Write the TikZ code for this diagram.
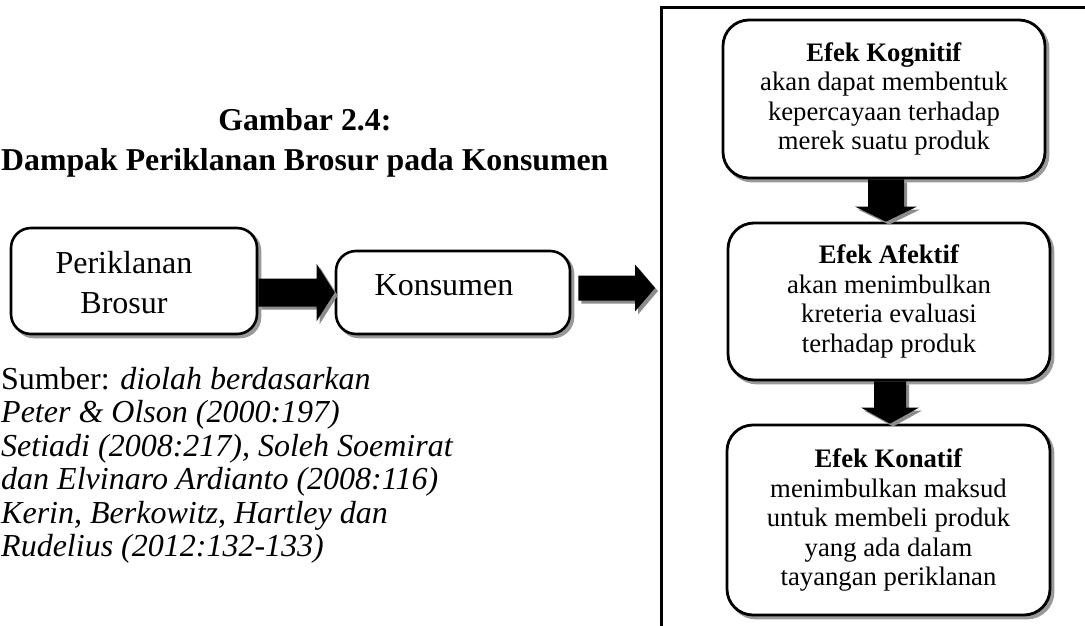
\documentclass[tikz,border=0pt]{standalone}
\usepackage{fontspec}
\setmainfont{Liberation Serif}
\usetikzlibrary{calc,shadows}

\tikzset{
  softshadow/.style={drop shadow={shadow xshift=3pt,shadow yshift=-3pt,opacity=1,fill=black!40,draw=black!40}},
  leftbox/.style={draw, line width=2.6pt, rounded corners=20pt, fill=white, softshadow, inner sep=0pt},
  lefttext/.style={align=center, inner sep=0pt, font=\fontsize{32}{40}\selectfont},
  rightbox/.style={draw, line width=2.8pt, rounded corners=26pt, fill=white, softshadow,
    align=center, inner sep=0pt, font=\fontsize{26.7}{29.5}\selectfont},
  fatbody/.style={fill=black, drop shadow={shadow xshift=3pt,shadow yshift=-3pt,opacity=1,fill=black!45}},
  framerule/.style={line width=3pt},
  titletext/.style={align=center, inner sep=0pt, font=\fontsize{31.8}{40}\selectfont\bfseries},
  sourcetext/.style={align=left, inner sep=0pt, font=\fontsize{32}{33.5}\selectfont}
}

% block arrow from #1 to #2: shaft half width #3, head half width #4, head length #5
\newcommand\blockarrow[5]{%
  \coordinate (ba-h) at ($(#2)!#5!(#1)$);
  \fill[fatbody] ($(#1)!#3!90:(#2)$) -- ($(ba-h)!#3!-90:(#1)$) -- ($(ba-h)!#4!-90:(#1)$)
    -- (#2) -- ($(ba-h)!#4!90:(#1)$) -- ($(ba-h)!#3!90:(#1)$) -- ($(#1)!#3!-90:(#2)$) -- cycle;
}

\begin{document}
\begin{tikzpicture}[x=1pt,y=-1pt]
\useasboundingbox (0,0) rectangle (1085,626);

% heading
\node[titletext, anchor=north west] (ttl) at (1,108)
  {Gambar 2.4:\\Dampak Periklanan Brosur pada Konsumen};

% left chain
\node[leftbox, minimum width=246pt, minimum height=106pt] (p) at (134,281) {};
\node[lefttext] (ptxt) at (124,283) {Periklanan\\Brosur};
\node[leftbox, minimum width=234pt, minimum height=83pt] (k) at (453,292.5) {};
\node[lefttext] (ktxt) at (444,285) {Konsumen};

% source note
\node[sourcetext, anchor=north west] (src) at (1,367)
  {Sumber: \textit{diolah berdasarkan}\\
   \textit{Peter \& Olson (2000:197)}\\
   \textit{Setiadi (2008:217), Soleh Soemirat}\\
   \textit{dan Elvinaro Ardianto (2008:116)}\\
   \textit{Kerin, Berkowitz, Hartley dan}\\
   \textit{Rudelius (2012:132-133)}};

% frame around the effects
\draw[framerule] (1085,8) -- (661,8) -- (661,626);
\coordinate (fr) at (661,288);

% effects
\node[rightbox, minimum width=322pt, minimum height=158pt] (b1) at (884,99)
  {\textbf{Efek Kognitif}\\akan dapat membentuk\\kepercayaan terhadap\\merek suatu produk};
\node[rightbox, minimum width=322pt, minimum height=157pt] (b2) at (889,301.5)
  {\textbf{Efek Afektif}\\akan menimbulkan\\kreteria evaluasi\\terhadap produk};
\node[rightbox, minimum width=323pt, minimum height=190pt] (b3) at (888.5,520)
  {\textbf{Efek Konatif}\\menimbulkan maksud\\untuk membeli produk\\yang ada dalam\\tayangan periklanan};

% arrows
\coordinate (h1a) at (p.east |- k.west);
\blockarrow{h1a}{k.west}{14pt}{28.5pt}{18pt}
\coordinate (h2a) at ($(k.east)+(7,-4.5)$);
\coordinate (h2b) at ($(fr)+(-6,0)$);
\blockarrow{h2a}{h2b}{12.5pt}{23.5pt}{20pt}
\coordinate (d1a) at ($(b1.south)+(2,0)$);
\coordinate (d1b) at (d1a |- b2.north);
\blockarrow{d1a}{d1b}{18pt}{31pt}{15pt}
\coordinate (d2a) at ($(b2.south)+(1,0)$);
\coordinate (d2b) at (d2a |- b3.north);
\blockarrow{d2a}{d2b}{16pt}{29pt}{16pt}
\end{tikzpicture}
\end{document}
